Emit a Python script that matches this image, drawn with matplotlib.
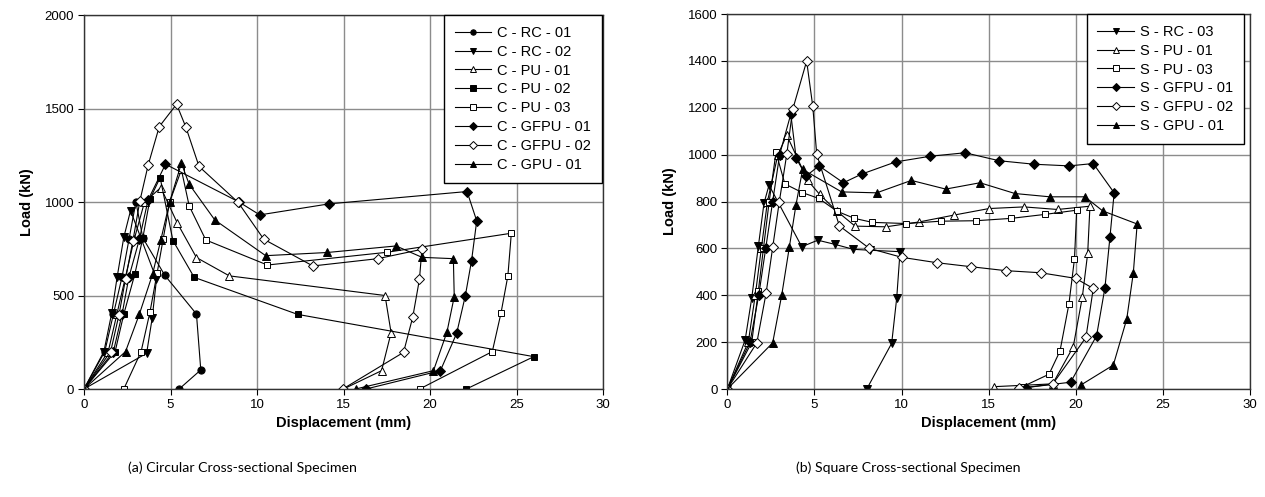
import numpy as np
import matplotlib
matplotlib.use("Agg")
import matplotlib.pyplot as plt

plt.rcParams["font.family"] = ["Liberation Sans", "DejaVu Sans"]

# --- circular specimens: displacement (mm), load (kN) ---
C_RC_01_X = [0, 1.2, 1.7, 2.2, 2.6, 3.0, 3.4, 4.67, 6.5, 6.75, 5.5]
C_RC_01_Y = [0, 200, 400, 600, 800, 1000, 808, 608, 401, 102, 0]
C_RC_02_X = [0, 1.15, 1.6, 1.92, 2.3, 2.69, 4.19, 3.94, 3.62, 0]
C_RC_02_Y = [0, 200, 405, 601, 811, 954, 587, 378, 191, 0]
C_PU_01_X = [0, 1.4, 1.9, 2.4, 2.9, 3.5, 4.44, 5.4, 6.5, 8.4, 17.4, 17.75, 17.2, 15.0]
C_PU_01_Y = [0, 200, 400, 600, 800, 1000, 1077, 886, 703, 605, 500, 301, 98, 0]
C_PU_02_X = [0, 1.8, 2.3, 2.94, 3.4, 3.81, 4.4, 5.14, 6.37, 12.35, 26.0, 22.1]
C_PU_02_Y = [0, 200, 400, 615, 808, 1015, 1131, 794, 597, 399, 173, 0]
C_PU_03_X = [2.3, 3.3, 3.81, 4.23, 4.58, 4.95, 5.63, 6.08, 7.04, 10.6, 17.5, 24.7, 24.5, 24.1, 23.6, 19.4]
C_PU_03_Y = [0, 200, 410, 622, 804, 1000, 1172, 979, 797, 663, 731, 833, 605, 405, 200, 0]
C_GFPU_01_X = [0, 1.7, 2.2, 2.6, 3.2, 3.7, 4.71, 8.96, 10.16, 14.16, 22.14, 22.7, 22.4, 22.04, 21.54, 20.6, 16.3]
C_GFPU_01_Y = [0, 200, 400, 600, 800, 1010, 1202, 1000, 931, 990, 1056, 899, 686, 498, 298, 98, 0]
C_GFPU_02_X = [0, 1.54, 2.02, 2.4, 2.83, 3.23, 3.71, 4.35, 5.35, 5.89, 6.65, 8.9, 10.39, 13.23, 16.98,
               19.53, 19.39, 19.0, 18.47, 14.96]
C_GFPU_02_Y = [0, 200, 396, 588, 794, 1006, 1198, 1403, 1523, 1400, 1190, 999, 801, 658, 697,
               747, 587, 384, 196, 0]
C_GPU_01_X = [0, 2.4, 3.2, 3.96, 4.44, 4.95, 5.63, 6.08, 7.56, 10.5, 14.06, 18.04, 19.54, 21.35,
              21.4, 20.98, 20.2, 15.7]
C_GPU_01_Y = [0, 200, 400, 613, 797, 1000, 1207, 1095, 904, 713, 730, 765, 704, 697,
              494, 305, 98, 0]

# --- square specimens ---
S_RC_03_X = [0, 1.02, 1.4, 1.78, 2.1, 2.39, 4.27, 5.19, 6.18, 7.23, 8.2, 9.91, 9.72, 9.43, 8.0]
S_RC_03_Y = [0, 209, 389, 610, 792, 870, 607, 635, 617, 596, 592, 586, 389, 195, 0]
S_PU_01_X = [0, 1.2, 1.6, 1.95, 2.3, 2.9, 3.41, 4.6, 5.3, 6.28, 7.33, 9.1, 11.02, 13.0, 15.02,
             17.02, 18.95, 20.81, 20.68, 20.37, 19.85, 18.67, 15.32]
S_PU_01_Y = [0, 200, 400, 600, 800, 1000, 1083, 891, 830, 759, 695, 692, 713, 742, 770,
             777, 766, 780, 579, 391, 180, 22, 10]
S_PU_03_X = [0, 1.4, 1.78, 2.07, 2.4, 2.79, 3.3, 4.3, 5.25, 6.28, 7.29, 8.32, 10.27, 12.24,
             14.27, 16.28, 18.23, 20.05, 19.92, 19.6, 19.09, 18.46, 16.89]
S_PU_03_Y = [0, 200, 420, 600, 800, 1010, 875, 838, 813, 759, 728, 711, 706, 716,
             718, 728, 745, 763, 554, 361, 162, 63, 8]
S_GFPU_01_X = [0, 1.3, 1.8, 2.2, 2.6, 3.0, 3.64, 3.95, 4.52, 5.26, 6.66, 7.71, 9.66, 11.63,
               13.64, 15.6, 17.61, 19.62, 21.0, 22.2, 21.96, 21.67, 21.19, 19.7, 17.14]
S_GFPU_01_Y = [0, 200, 400, 600, 800, 1000, 1173, 984, 909, 952, 880, 917, 969, 993,
               1008, 974, 959, 952, 962, 837, 650, 432, 227, 29, 6]
S_GFPU_02_X = [0, 1.69, 2.22, 2.6, 2.98, 3.41, 3.75, 4.55, 4.9, 5.13, 6.43, 8.15, 10.0, 12.01,
               13.96, 15.97, 17.98, 19.99, 21.0, 20.58, 18.67, 16.75]
S_GFPU_02_Y = [0, 197, 408, 604, 799, 1002, 1193, 1399, 1207, 1001, 696, 600, 562, 539,
               522, 505, 496, 472, 429, 220, 21, 3]
S_GPU_01_X = [0, 2.6, 3.12, 3.56, 3.94, 4.32, 6.56, 8.57, 10.56, 12.53, 14.5, 16.51, 18.51,
              20.52, 21.54, 23.52, 23.3, 22.92, 22.15, 20.29]
S_GPU_01_Y = [0, 197, 401, 607, 787, 937, 841, 837, 890, 853, 880, 834, 820,
              820, 760, 704, 496, 298, 102, 17]

CIRCULAR = [
    ("C - RC - 01", C_RC_01_X, C_RC_01_Y, "o", "black"),
    ("C - RC - 02", C_RC_02_X, C_RC_02_Y, "v", "black"),
    ("C - PU - 01", C_PU_01_X, C_PU_01_Y, "^", "white"),
    ("C - PU - 02", C_PU_02_X, C_PU_02_Y, "s", "black"),
    ("C - PU - 03", C_PU_03_X, C_PU_03_Y, "s", "white"),
    ("C - GFPU - 01", C_GFPU_01_X, C_GFPU_01_Y, "D", "black"),
    ("C - GFPU - 02", C_GFPU_02_X, C_GFPU_02_Y, "D", "white"),
    ("C - GPU - 01", C_GPU_01_X, C_GPU_01_Y, "^", "black"),
]
SQUARE = [
    ("S - RC - 03", S_RC_03_X, S_RC_03_Y, "v", "black"),
    ("S - PU - 01", S_PU_01_X, S_PU_01_Y, "^", "white"),
    ("S - PU - 03", S_PU_03_X, S_PU_03_Y, "s", "white"),
    ("S - GFPU - 01", S_GFPU_01_X, S_GFPU_01_Y, "D", "black"),
    ("S - GFPU - 02", S_GFPU_02_X, S_GFPU_02_Y, "D", "white"),
    ("S - GPU - 01", S_GPU_01_X, S_GPU_01_Y, "^", "black"),
]

GRID_COLOR = "#8c8c8c"
MARKER_SIZE = {"o": 5.2, "v": 5.8, "^": 5.8, "s": 5.0, "D": 5.6}


def draw_panel(ax, series, ymax, ystep, caption, cap_x, leg_anchor):
    for name, x, y, mk, fc in series:
        ax.plot(x, y, color="black", lw=0.8, marker=mk, ms=MARKER_SIZE[mk],
                mfc=fc, mec="black", mew=0.7, label=name)
    ax.set_xlim(0, 30)
    ax.set_ylim(0, ymax)
    ax.set_xticks(np.arange(0, 31, 5))
    ax.set_yticks(np.arange(0, ymax + 1, ystep))
    ax.grid(True, color=GRID_COLOR, lw=1.0)
    ax.set_axisbelow(True)
    for s in ax.spines.values():
        s.set_color("#333333")
        s.set_linewidth(1.0)
    ax.tick_params(direction="out", length=4, width=0.8, labelsize=9.5, pad=3)
    ax.set_xlabel("Displacement (mm)", fontsize=10.5, fontweight="bold", labelpad=4)
    ax.set_ylabel("Load (kN)", fontsize=10.5, fontweight="bold", labelpad=8)
    leg = ax.legend(loc="upper right", bbox_to_anchor=leg_anchor, fontsize=10.5,
                    frameon=True, fancybox=False, edgecolor="black", framealpha=1,
                    markerscale=0.75, handlelength=2.5, handletextpad=0.4,
                    labelspacing=0.33, borderaxespad=0.0, borderpad=0.75)
    leg.get_frame().set_linewidth(1.0)
    # panel caption underneath the axes
    ax.figure.text(cap_x, 0.058, caption, ha="center", va="center",
                   fontsize=10.2, family=["Lato", "DejaVu Sans"])


fig = plt.figure(figsize=(12.65, 4.97), dpi=100)
ax1 = fig.add_axes([0.0664, 0.2173, 0.4103, 0.7525])
ax2 = fig.add_axes([0.575, 0.2173, 0.4132, 0.7545])

draw_panel(ax1, CIRCULAR, 2000, 500, "(a) Circular Cross-sectional Specimen",
           0.192, (0.998, 1.0))
draw_panel(ax2, SQUARE, 1600, 200, "(b) Square Cross-sectional Specimen",
           0.718, (0.988, 1.0))

fig.savefig("out.png", dpi=100)
plt.close(fig)
